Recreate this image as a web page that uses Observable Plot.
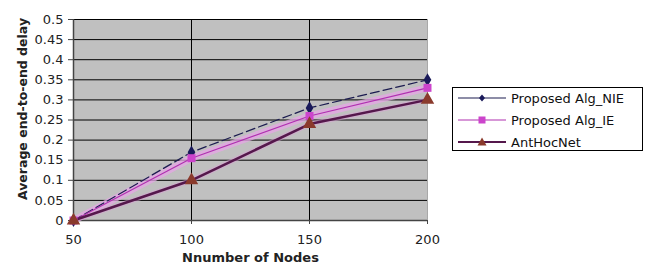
<!DOCTYPE html>
<html>
<head>
<meta charset="utf-8">
<script src="https://cdn.jsdelivr.net/npm/d3@7"></script>
<script src="https://cdn.jsdelivr.net/npm/@observablehq/plot@0.6"></script>
<style>
  html, body { margin: 0; padding: 0; background: #fff; }
  #wrap { position: relative; width: 648px; height: 269px; font-family: "DejaVu Sans", sans-serif; }
  #legend { position: absolute; left: 452px; top: 87px; width: 189px; height: 62px; border: 1px solid #000; background: #fff; }
  .row { position: absolute; left: 0; height: 20px; display: flex; align-items: center; font-size: 13px; color: #111; }
  .row svg { margin-left: 5px; margin-right: 5px; }
</style>
</head>
<body>
<div id="wrap"></div>
<script>
const nodes = [50, 100, 150, 200];
const nie = [0, 0.17, 0.28, 0.35];
const ie = [0, 0.155, 0.26, 0.33];
const ant = [0, 0.10, 0.24, 0.30];
const seriesNames = ["Proposed Alg_NIE", "Proposed Alg_IE", "AntHocNet"];
const yTicks = [0, 0.05, 0.1, 0.15, 0.2, 0.25, 0.3, 0.35, 0.4, 0.45, 0.5];
const xTicks = [50, 100, 150, 200];
const xLabel = "Nnumber of Nodes";
const yLabel = "Average end-to-end delay";

const toRows = (vals) => nodes.map((n, i) => ({x: n, y: vals[i]}));
const dNie = toRows(nie), dIe = toRows(ie), dAnt = toRows(ant);

const chart = Plot.plot({
  width: 648,
  height: 269,
  marginLeft: 73,
  marginRight: 221,
  marginTop: 19,
  marginBottom: 49,
  style: {fontFamily: "DejaVu Sans, sans-serif", fontSize: "13px", color: "#222", background: "transparent", overflow: "visible"},
  x: {domain: [50, 200]},
  y: {domain: [0, 0.5]},
  marks: [
    Plot.frame({fill: "#c0c0c0", stroke: "#a8a8a8"}),
    Plot.gridY(yTicks, {stroke: "#000", strokeOpacity: 1, strokeWidth: 1}),
    Plot.gridX([100, 150], {stroke: "#000", strokeOpacity: 1, strokeWidth: 1}),
    Plot.ruleX([50], {stroke: "#444", strokeWidth: 1.5}),
    Plot.ruleY([0], {stroke: "#444", strokeWidth: 1.5}),
    Plot.axisY({ticks: yTicks, tickSize: 5, tickPadding: 5, label: null, tickFormat: d => String(+d.toFixed(2)), stroke: "#444"}),
    Plot.axisX({ticks: xTicks, tickSize: 4, tickPadding: 10, label: null, stroke: "#444"}),
    // halos
    Plot.line(dIe, {x: "x", y: "y", stroke: "#e6a6e6", strokeWidth: 7, strokeOpacity: 0.75}),
    Plot.line(dAnt, {x: "x", y: "y", stroke: "#d9a0d6", strokeWidth: 5, strokeOpacity: 0.5}),
    // lines
    Plot.line(dNie, {x: "x", y: "y", stroke: "#1c1c50", strokeWidth: 1.2, strokeDasharray: "9,4"}),
    Plot.line(dIe, {x: "x", y: "y", stroke: "#b030b0", strokeWidth: 1.2}),
    Plot.line(dAnt, {x: "x", y: "y", stroke: "#55184c", strokeWidth: 2.5}),
    // markers
    Plot.dot(dNie, {x: "x", y: "y", symbol: "diamond", r: 4, fill: "#1a1a5a"}),
    Plot.dot(dIe, {x: "x", y: "y", symbol: "square", r: 4.5, fill: "#cc44cc"}),
    Plot.dot(dAnt, {x: "x", y: "y", symbol: "triangle", r: 5, fill: "#8a3a2c"}),
    // axis titles
    Plot.text([yLabel], {frameAnchor: "left", textAnchor: "middle", lineAnchor: "middle", dx: -51, dy: -11, rotate: -90, fontWeight: "bold", fontSize: 12.5, fill: "#222"}),
    Plot.text([xLabel], {frameAnchor: "bottom", textAnchor: "middle", lineAnchor: "middle", dy: 37, fontWeight: "bold", fontSize: 13, fill: "#222"})
  ]
});

const wrap = document.getElementById("wrap");
wrap.appendChild(chart);

const legend = document.createElement("div");
legend.id = "legend";
const styles = [
  {stroke: "#1c1c50", w: 1.2, marker: "diamond", fill: "#1a1a5a"},
  {stroke: "#b030b0", w: 1.2, marker: "square", fill: "#cc44cc"},
  {stroke: "#55184c", w: 2.2, marker: "triangle", fill: "#8a3a2c"}
];
seriesNames.forEach((name, i) => {
  const row = document.createElement("div");
  row.className = "row";
  row.style.top = (i * 22) + "px";
  const s = styles[i];
  let m;
  if (s.marker === "diamond") m = `<path d="M24,6.5 L27,10 L24,13.5 L21,10 Z" fill="${s.fill}"/>`;
  else if (s.marker === "square") m = `<rect x="20.5" y="6.5" width="7" height="7" fill="${s.fill}"/>`;
  else m = `<path d="M24,5.5 L28.5,13.5 L19.5,13.5 Z" fill="${s.fill}"/>`;
  row.innerHTML = `<svg width="48" height="20"><line x1="0" y1="10" x2="48" y2="10" stroke="${s.stroke}" stroke-width="${s.w}"/>${m}</svg><span>${name}</span>`;
  legend.appendChild(row);
});
wrap.appendChild(legend);
</script>
</body>
</html>
